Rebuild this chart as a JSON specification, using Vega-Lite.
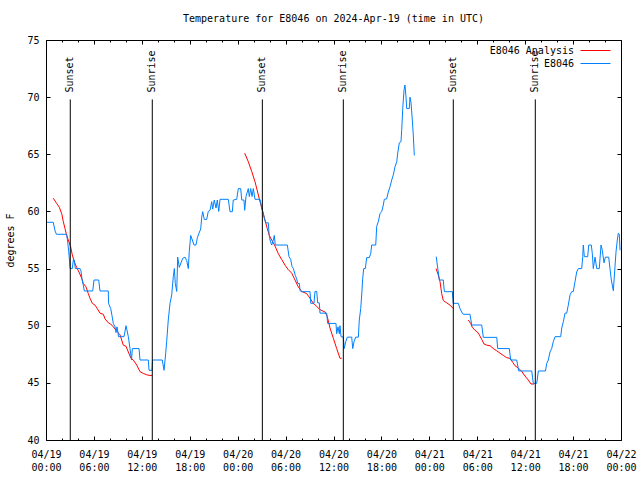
{
  "$schema": "https://vega.github.io/schema/vega-lite/v6.json",
  "autosize": {"type": "none"},
  "padding": {"left": 46, "top": 40, "right": 19, "bottom": 40},
  "width": 575,
  "height": 400,
  "title": {"text": "Temperature for E8046 on 2024-Apr-19 (time in UTC)", "fontSize": 10, "fontWeight": "normal", "offset": 11, "anchor": "middle", "color": "black"},
  "datasets": {
    "anl": [
      {"h":0.91,"temp":61.15,"seg":1},{"h":1.34,"temp":60.7,"seg":1},{"h":1.67,"temp":60.36,"seg":1},{"h":1.97,"temp":59.8,"seg":1},{"h":2.17,"temp":59.1,"seg":1},{"h":2.38,"temp":58.5,"seg":1},{"h":2.59,"temp":57.9,"seg":1},{"h":2.79,"temp":57.5,"seg":1},{"h":3.09,"temp":56.9,"seg":1},{"h":3.29,"temp":56.2,"seg":1},{"h":3.54,"temp":55.6,"seg":1},{"h":3.84,"temp":55.1,"seg":1},{"h":4.13,"temp":54.7,"seg":1},{"h":4.47,"temp":54.15,"seg":1},{"h":4.67,"temp":53.7,"seg":1},{"h":5.01,"temp":53.4,"seg":1},{"h":5.3,"temp":52.8,"seg":1},{"h":5.51,"temp":52.4,"seg":1},{"h":5.8,"temp":51.96,"seg":1},{"h":6.14,"temp":51.8,"seg":1},{"h":6.42,"temp":51.5,"seg":1},{"h":6.76,"temp":51.1,"seg":1},{"h":7.18,"temp":51.0,"seg":1},{"h":7.39,"temp":50.6,"seg":1},{"h":7.8,"temp":50.26,"seg":1},{"h":8.1,"temp":50.15,"seg":1},{"h":8.43,"temp":49.9,"seg":1},{"h":8.77,"temp":49.6,"seg":1},{"h":9.27,"temp":49.2,"seg":1},{"h":9.68,"temp":48.3,"seg":1},{"h":10.02,"temp":48.2,"seg":1},{"h":10.31,"temp":47.7,"seg":1},{"h":10.64,"temp":47.15,"seg":1},{"h":10.93,"temp":47.0,"seg":1},{"h":11.36,"temp":46.56,"seg":1},{"h":11.77,"temp":45.98,"seg":1},{"h":12.18,"temp":45.83,"seg":1},{"h":12.61,"temp":45.7,"seg":1},{"h":13.02,"temp":45.65,"seg":1},{"h":13.27,"temp":45.65,"seg":1},
      {"h":24.88,"temp":65.1,"seg":2},{"h":25.33,"temp":64.35,"seg":2},{"h":25.76,"temp":63.5,"seg":2},{"h":26.17,"temp":62.6,"seg":2},{"h":26.46,"temp":61.8,"seg":2},{"h":26.8,"temp":60.85,"seg":2},{"h":27.14,"temp":60.0,"seg":2},{"h":27.42,"temp":59.25,"seg":2},{"h":27.71,"temp":58.5,"seg":2},{"h":27.96,"temp":57.9,"seg":2},{"h":28.26,"temp":57.5,"seg":2},{"h":28.68,"temp":56.97,"seg":2},{"h":29.09,"temp":56.3,"seg":2},{"h":29.51,"temp":55.8,"seg":2},{"h":29.93,"temp":55.3,"seg":2},{"h":30.34,"temp":54.9,"seg":2},{"h":30.77,"temp":54.6,"seg":2},{"h":31.18,"temp":54.0,"seg":2},{"h":31.59,"temp":53.4,"seg":2},{"h":32.02,"temp":53.0,"seg":2},{"h":32.65,"temp":52.8,"seg":2},{"h":33.06,"temp":52.4,"seg":2},{"h":33.47,"temp":51.96,"seg":2},{"h":33.9,"temp":51.7,"seg":2},{"h":34.31,"temp":51.4,"seg":2},{"h":34.94,"temp":51.2,"seg":2},{"h":35.22,"temp":50.8,"seg":2},{"h":35.56,"temp":49.8,"seg":2},{"h":35.98,"temp":48.9,"seg":2},{"h":36.4,"temp":48.0,"seg":2},{"h":36.81,"temp":47.15,"seg":2},{"h":37.03,"temp":47.15,"seg":2},
      {"h":48.84,"temp":55.0,"seg":3},{"h":49.09,"temp":54.5,"seg":3},{"h":49.34,"temp":53.85,"seg":3},{"h":49.55,"temp":52.8,"seg":3},{"h":49.75,"temp":52.2,"seg":3},{"h":50.18,"temp":52.0,"seg":3},{"h":50.59,"temp":51.8,"seg":3},{"h":51.0,"temp":51.5,"seg":3},
      {"h":52.88,"temp":50.5,"seg":4},{"h":53.18,"temp":50.2,"seg":4},{"h":53.38,"temp":49.86,"seg":4},{"h":53.72,"temp":49.6,"seg":4},{"h":54.01,"temp":49.45,"seg":4},{"h":54.26,"temp":49.2,"seg":4},{"h":54.56,"temp":48.8,"seg":4},{"h":54.85,"temp":48.4,"seg":4},{"h":55.18,"temp":48.3,"seg":4},{"h":55.6,"temp":48.25,"seg":4},{"h":56.01,"temp":48.0,"seg":4},{"h":56.44,"temp":47.8,"seg":4},{"h":56.85,"temp":47.6,"seg":4},{"h":57.26,"temp":47.4,"seg":4},{"h":57.69,"temp":47.2,"seg":4},{"h":58.1,"temp":47.15,"seg":4},{"h":58.44,"temp":46.8,"seg":4},{"h":58.73,"temp":46.5,"seg":4},{"h":59.14,"temp":46.3,"seg":4},{"h":59.57,"temp":46.0,"seg":4},{"h":59.98,"temp":45.6,"seg":4},{"h":60.39,"temp":45.25,"seg":4},{"h":60.73,"temp":44.9,"seg":4},{"h":61.11,"temp":44.9,"seg":4}
    ],
    "obs": [
      {"h":0.13,"temp":59.05,"seg":1},{"h":0.91,"temp":59.05,"seg":1},{"h":1.13,"temp":58.3,"seg":1},{"h":1.31,"temp":58.0,"seg":1},{"h":2.59,"temp":58.0,"seg":1},{"h":2.72,"temp":57.3,"seg":1},{"h":2.84,"temp":56.5,"seg":1},{"h":2.94,"temp":55.75,"seg":1},{"h":3.01,"temp":55.0,"seg":1},{"h":3.29,"temp":55.0,"seg":1},{"h":3.42,"temp":55.75,"seg":1},{"h":3.54,"temp":55.75,"seg":1},{"h":3.67,"temp":55.0,"seg":1},{"h":4.26,"temp":55.0,"seg":1},{"h":4.38,"temp":54.8,"seg":1},{"h":4.51,"temp":54.06,"seg":1},{"h":4.67,"temp":53.56,"seg":1},{"h":4.8,"temp":53.04,"seg":1},{"h":5.85,"temp":53.04,"seg":1},{"h":6.01,"temp":54.0,"seg":1},{"h":6.6,"temp":54.0,"seg":1},{"h":6.76,"temp":53.04,"seg":1},{"h":7.8,"temp":53.04,"seg":1},{"h":7.83,"temp":51.96,"seg":1},{"h":8.1,"temp":51.5,"seg":1},{"h":8.26,"temp":50.9,"seg":1},{"h":8.43,"temp":50.2,"seg":1},{"h":8.64,"temp":49.9,"seg":1},{"h":8.77,"temp":49.4,"seg":1},{"h":8.89,"temp":49.9,"seg":1},{"h":9.02,"temp":49.4,"seg":1},{"h":9.08,"temp":49.04,"seg":1},{"h":9.77,"temp":49.04,"seg":1},{"h":10.02,"temp":50.0,"seg":1},{"h":10.31,"temp":49.04,"seg":1},{"h":10.52,"temp":48.0,"seg":1},{"h":10.71,"temp":47.0,"seg":1},{"h":10.81,"temp":48.0,"seg":1},{"h":11.65,"temp":48.0,"seg":1},{"h":11.77,"temp":47.0,"seg":1},{"h":12.81,"temp":47.0,"seg":1},{"h":12.9,"temp":46.1,"seg":1},{"h":13.27,"temp":46.1,"seg":1},{"h":13.34,"temp":47.0,"seg":1},{"h":14.56,"temp":47.0,"seg":1},{"h":14.78,"temp":46.1,"seg":1},{"h":14.99,"temp":47.6,"seg":1},{"h":15.11,"temp":48.6,"seg":1},{"h":15.31,"temp":50.5,"seg":1},{"h":15.53,"temp":51.96,"seg":1},{"h":15.74,"temp":52.7,"seg":1},{"h":15.94,"temp":54.3,"seg":1},{"h":16.07,"temp":55.0,"seg":1},{"h":16.19,"temp":53.7,"seg":1},{"h":16.37,"temp":53.0,"seg":1},{"h":16.49,"temp":56.0,"seg":1},{"h":16.69,"temp":55.1,"seg":1},{"h":16.9,"temp":55.5,"seg":1},{"h":17.12,"temp":55.9,"seg":1},{"h":17.41,"temp":56.0,"seg":1},{"h":17.62,"temp":55.7,"seg":1},{"h":17.82,"temp":55.0,"seg":1},{"h":17.94,"temp":56.5,"seg":1},{"h":18.12,"temp":57.9,"seg":1},{"h":18.32,"temp":57.5,"seg":1},{"h":18.53,"temp":57.06,"seg":1},{"h":18.78,"temp":57.06,"seg":1},{"h":18.95,"temp":57.7,"seg":1},{"h":19.16,"temp":58.1,"seg":1},{"h":19.37,"temp":58.46,"seg":1},{"h":19.5,"temp":59.5,"seg":1},{"h":19.62,"temp":59.98,"seg":1},{"h":19.82,"temp":59.3,"seg":1},{"h":20.12,"temp":59.3,"seg":1},{"h":20.32,"temp":60.0,"seg":1},{"h":20.54,"temp":60.1,"seg":1},{"h":20.75,"temp":60.85,"seg":1},{"h":20.87,"temp":60.2,"seg":1},{"h":21.07,"temp":61.0,"seg":1},{"h":21.29,"temp":60.3,"seg":1},{"h":21.45,"temp":61.0,"seg":1},{"h":21.63,"temp":60.0,"seg":1},{"h":21.79,"temp":61.06,"seg":1},{"h":22.83,"temp":61.06,"seg":1},{"h":23.04,"temp":59.98,"seg":1},{"h":23.33,"temp":59.98,"seg":1},{"h":23.45,"temp":61.0,"seg":1},{"h":23.88,"temp":61.06,"seg":1},{"h":24.08,"temp":62.0,"seg":1},{"h":24.38,"temp":62.0,"seg":1},{"h":24.51,"temp":61.0,"seg":1},{"h":24.79,"temp":61.0,"seg":1},{"h":24.88,"temp":60.1,"seg":1},{"h":25.04,"temp":61.3,"seg":1},{"h":25.33,"temp":62.0,"seg":1},{"h":25.46,"temp":61.3,"seg":1},{"h":25.63,"temp":62.0,"seg":1},{"h":25.8,"temp":61.3,"seg":1},{"h":25.96,"temp":62.0,"seg":1},{"h":26.17,"temp":61.06,"seg":1},{"h":26.8,"temp":61.06,"seg":1},{"h":27.01,"temp":60.3,"seg":1},{"h":27.14,"temp":59.98,"seg":1},{"h":27.34,"temp":59.4,"seg":1},{"h":27.51,"temp":59.0,"seg":1},{"h":27.84,"temp":59.0,"seg":1},{"h":27.92,"temp":58.1,"seg":1},{"h":28.05,"temp":57.5,"seg":1},{"h":28.26,"temp":57.06,"seg":1},{"h":28.46,"temp":57.5,"seg":1},{"h":28.59,"temp":57.9,"seg":1},{"h":28.71,"temp":57.06,"seg":1},{"h":30.22,"temp":57.06,"seg":1},{"h":30.43,"temp":56.04,"seg":1},{"h":30.64,"temp":55.8,"seg":1},{"h":30.8,"temp":55.2,"seg":1},{"h":30.97,"temp":55.0,"seg":1},{"h":31.22,"temp":54.4,"seg":1},{"h":31.39,"temp":54.1,"seg":1},{"h":31.52,"temp":53.7,"seg":1},{"h":31.72,"temp":53.7,"seg":1},{"h":31.81,"temp":53.1,"seg":1},{"h":31.93,"temp":52.98,"seg":1},{"h":33.06,"temp":52.98,"seg":1},{"h":33.15,"temp":51.96,"seg":1},{"h":33.56,"temp":51.96,"seg":1},{"h":33.68,"temp":53.0,"seg":1},{"h":33.9,"temp":53.0,"seg":1},{"h":34.02,"temp":52.0,"seg":1},{"h":34.22,"temp":52.0,"seg":1},{"h":34.31,"temp":51.1,"seg":1},{"h":35.15,"temp":51.1,"seg":1},{"h":35.27,"temp":50.2,"seg":1},{"h":36.31,"temp":50.2,"seg":1},{"h":36.4,"temp":49.3,"seg":1},{"h":36.56,"temp":49.9,"seg":1},{"h":36.73,"temp":49.3,"seg":1},{"h":36.81,"temp":50.0,"seg":1},{"h":36.94,"temp":49.04,"seg":1},{"h":37.23,"temp":49.0,"seg":1},{"h":37.35,"temp":48.0,"seg":1},{"h":37.53,"temp":48.6,"seg":1},{"h":37.73,"temp":49.0,"seg":1},{"h":38.28,"temp":49.0,"seg":1},{"h":38.41,"temp":48.0,"seg":1},{"h":38.57,"temp":48.6,"seg":1},{"h":38.78,"temp":49.0,"seg":1},{"h":39.11,"temp":49.0,"seg":1},{"h":39.23,"temp":50.5,"seg":1},{"h":39.41,"temp":51.5,"seg":1},{"h":39.53,"temp":52.7,"seg":1},{"h":39.66,"temp":54.15,"seg":1},{"h":39.78,"temp":55.0,"seg":1},{"h":39.98,"temp":55.0,"seg":1},{"h":40.16,"temp":55.96,"seg":1},{"h":40.48,"temp":55.96,"seg":1},{"h":40.66,"temp":56.3,"seg":1},{"h":40.78,"temp":57.06,"seg":1},{"h":41.29,"temp":57.06,"seg":1},{"h":41.41,"temp":58.7,"seg":1},{"h":41.61,"temp":59.1,"seg":1},{"h":41.82,"temp":59.8,"seg":1},{"h":42.04,"temp":60.0,"seg":1},{"h":42.24,"temp":60.56,"seg":1},{"h":42.36,"temp":61.06,"seg":1},{"h":42.66,"temp":61.1,"seg":1},{"h":42.86,"temp":61.7,"seg":1},{"h":43.08,"temp":62.16,"seg":1},{"h":43.29,"temp":62.75,"seg":1},{"h":43.49,"temp":63.2,"seg":1},{"h":43.7,"temp":63.9,"seg":1},{"h":43.92,"temp":64.35,"seg":1},{"h":44.04,"temp":65.1,"seg":1},{"h":44.24,"temp":66.0,"seg":1},{"h":44.45,"temp":66.1,"seg":1},{"h":44.54,"temp":67.1,"seg":1},{"h":44.67,"temp":69.0,"seg":1},{"h":44.83,"temp":70.6,"seg":1},{"h":44.95,"temp":71.06,"seg":1},{"h":45.08,"temp":70.0,"seg":1},{"h":45.17,"temp":69.0,"seg":1},{"h":45.49,"temp":69.0,"seg":1},{"h":45.58,"temp":70.0,"seg":1},{"h":45.71,"temp":69.5,"seg":1},{"h":45.87,"temp":68.0,"seg":1},{"h":45.99,"temp":66.7,"seg":1},{"h":46.12,"temp":64.9,"seg":1},
      {"h":48.87,"temp":56.04,"seg":2},{"h":49.0,"temp":55.3,"seg":2},{"h":49.12,"temp":54.7,"seg":2},{"h":49.25,"temp":54.0,"seg":2},{"h":49.75,"temp":54.0,"seg":2},{"h":49.88,"temp":52.98,"seg":2},{"h":50.88,"temp":52.98,"seg":2},{"h":51.0,"temp":51.96,"seg":2},{"h":51.63,"temp":51.96,"seg":2},{"h":51.84,"temp":51.5,"seg":2},{"h":52.05,"temp":51.2,"seg":2},{"h":52.25,"temp":51.0,"seg":2},{"h":53.09,"temp":51.0,"seg":2},{"h":53.31,"temp":50.06,"seg":2},{"h":54.56,"temp":50.06,"seg":2},{"h":54.76,"temp":48.98,"seg":2},{"h":56.44,"temp":48.98,"seg":2},{"h":56.56,"temp":48.0,"seg":2},{"h":58.01,"temp":48.0,"seg":2},{"h":58.19,"temp":47.0,"seg":2},{"h":58.94,"temp":47.0,"seg":2},{"h":59.19,"temp":46.04,"seg":2},{"h":60.82,"temp":46.04,"seg":2},{"h":61.02,"temp":44.96,"seg":2},{"h":61.45,"temp":44.96,"seg":2},{"h":61.65,"temp":46.04,"seg":2},{"h":62.55,"temp":46.04,"seg":2},{"h":62.7,"temp":46.7,"seg":2},{"h":62.9,"temp":47.0,"seg":2},{"h":63.11,"temp":47.7,"seg":2},{"h":63.32,"temp":48.0,"seg":2},{"h":63.52,"temp":48.6,"seg":2},{"h":63.74,"temp":49.04,"seg":2},{"h":64.45,"temp":49.04,"seg":2},{"h":64.58,"temp":49.8,"seg":2},{"h":64.78,"temp":50.35,"seg":2},{"h":64.99,"temp":51.1,"seg":2},{"h":65.2,"temp":51.1,"seg":2},{"h":65.4,"temp":51.8,"seg":2},{"h":65.62,"temp":52.7,"seg":2},{"h":65.83,"temp":52.98,"seg":2},{"h":66.03,"temp":53.0,"seg":2},{"h":66.24,"temp":53.85,"seg":2},{"h":66.45,"temp":54.7,"seg":2},{"h":66.66,"temp":55.0,"seg":2},{"h":67.08,"temp":55.0,"seg":2},{"h":67.21,"temp":56.04,"seg":2},{"h":67.28,"temp":57.06,"seg":2},{"h":67.41,"temp":56.04,"seg":2},{"h":67.83,"temp":56.04,"seg":2},{"h":67.96,"temp":57.06,"seg":2},{"h":68.28,"temp":57.06,"seg":2},{"h":68.41,"temp":56.3,"seg":2},{"h":68.53,"temp":55.0,"seg":2},{"h":68.75,"temp":56.0,"seg":2},{"h":68.96,"temp":55.0,"seg":2},{"h":69.28,"temp":55.0,"seg":2},{"h":69.5,"temp":57.06,"seg":2},{"h":69.66,"temp":56.6,"seg":2},{"h":69.87,"temp":55.5,"seg":2},{"h":70.04,"temp":56.0,"seg":2},{"h":70.46,"temp":56.0,"seg":2},{"h":70.62,"temp":55.0,"seg":2},{"h":70.79,"temp":54.0,"seg":2},{"h":71.04,"temp":53.06,"seg":2},{"h":71.25,"temp":55.2,"seg":2},{"h":71.38,"temp":56.5,"seg":2},{"h":71.54,"temp":57.5,"seg":2},{"h":71.66,"temp":58.1,"seg":2},{"h":71.79,"temp":58.0,"seg":2},{"h":71.88,"temp":56.6,"seg":2}
    ],
    "events": [
      {"h":3.04,"event":"Sunset"},{"h":13.31,"event":"Sunrise"},{"h":27.09,"event":"Sunset"},{"h":37.23,"event":"Sunrise"},{"h":51.0,"event":"Sunset"},{"h":61.27,"event":"Sunrise"}
    ]
  },
  "layer": [
    {
      "data": {"name": "anl"},
      "mark": {"type": "line", "strokeWidth": 1},
      "encoding": {
        "x": {"field": "h", "type": "quantitative", "scale": {"domain": [0, 72], "nice": false, "zero": false},
              "axis": {"orient": "bottom", "values": [0,6,12,18,24,30,36,42,48,54,60,66,72], "tickSize": -4, "labelPadding": 13, "labelBaseline": "top", "labelLineHeight": 13, "labelFlush": false, "labelOverlap": false, "labelBound": false, "title": null,
                       "labelExpr": "['04/' + (19 + floor(datum.value / 24)), (datum.value % 24 < 10 ? '0' : '') + (datum.value % 24) + ':00']"}},
        "y": {"field": "temp", "type": "quantitative", "scale": {"domain": [40, 75], "nice": false, "zero": false},
              "axis": {"orient": "left", "values": [40,45,50,55,60,65,70,75], "tickSize": -4, "labelPadding": 11, "labelFlush": false, "labelOverlap": false, "title": "degrees F", "titleFontWeight": "normal", "titleFontSize": 10, "titleAngle": 270, "titleX": -36, "titleY": 200, "titleAlign": "center", "titleBaseline": "middle"}},
        "color": {"datum": "E8046 Analysis", "scale": {"domain": ["E8046 Analysis", "E8046"], "range": ["#ff0000", "#0080ff"]},
                  "legend": {"orient": "none", "legendX": 543, "legendY": 4, "title": null, "symbolType": "M-2.5,0H2.5", "symbolSize": 144, "symbolStrokeWidth": 1, "labelAlign": "right", "labelOffset": -28, "labelFontSize": 10, "rowPadding": 1, "padding": 0}},
        "detail": {"field": "seg"}
      }
    },
    {
      "data": {"name": "obs"},
      "mark": {"type": "line", "strokeWidth": 1},
      "encoding": {
        "x": {"field": "h", "type": "quantitative", "axis": {"orient": "bottom", "values": [0,2,4,6,8,10,12,14,16,18,20,22,24,26,28,30,32,34,36,38,40,42,44,46,48,50,52,54,56,58,60,62,64,66,68,70,72], "tickSize": -2, "labels": false, "title": null}},
        "y": {"field": "temp", "type": "quantitative", "axis": {"orient": "right", "values": [40,45,50,55,60,65,70,75], "tickSize": -4, "labels": false, "title": null}},
        "color": {"datum": "E8046"},
        "detail": {"field": "seg"}
      }
    },
    {
      "data": {"name": "events"},
      "mark": {"type": "rule", "color": "black", "strokeWidth": 1},
      "encoding": {
        "x": {"field": "h", "type": "quantitative", "axis": {"orient": "top", "values": [0,6,12,18,24,30,36,42,48,54,60,66,72], "tickSize": -4, "labels": false, "title": null}},
        "y": {"datum": 40, "axis": null},
        "y2": {"datum": 69.8}
      }
    },
    {
      "data": {"name": "events"},
      "mark": {"type": "text", "angle": 270, "align": "left", "baseline": "middle", "fontSize": 10, "color": "black"},
      "encoding": {
        "x": {"field": "h", "type": "quantitative", "axis": {"orient": "top", "values": [0,2,4,6,8,10,12,14,16,18,20,22,24,26,28,30,32,34,36,38,40,42,44,46,48,50,52,54,56,58,60,62,64,66,68,70,72], "tickSize": -2, "labels": false, "title": null}},
        "y": {"datum": 70.4, "axis": null},
        "text": {"field": "event"}
      }
    }
  ],
  "resolve": {"axis": {"x": "independent", "y": "independent"}},
  "config": {
    "font": "DejaVu Sans Mono",
    "view": {"stroke": "black", "strokeWidth": 1},
    "axis": {"grid": false, "domain": false, "tickColor": "black", "labelColor": "black", "titleColor": "black", "labelFontSize": 10, "labelFont": "DejaVu Sans Mono", "titleFont": "DejaVu Sans Mono"},
    "legend": {"labelFont": "DejaVu Sans Mono", "labelColor": "black"},
    "title": {"font": "DejaVu Sans Mono"}
  }
}
